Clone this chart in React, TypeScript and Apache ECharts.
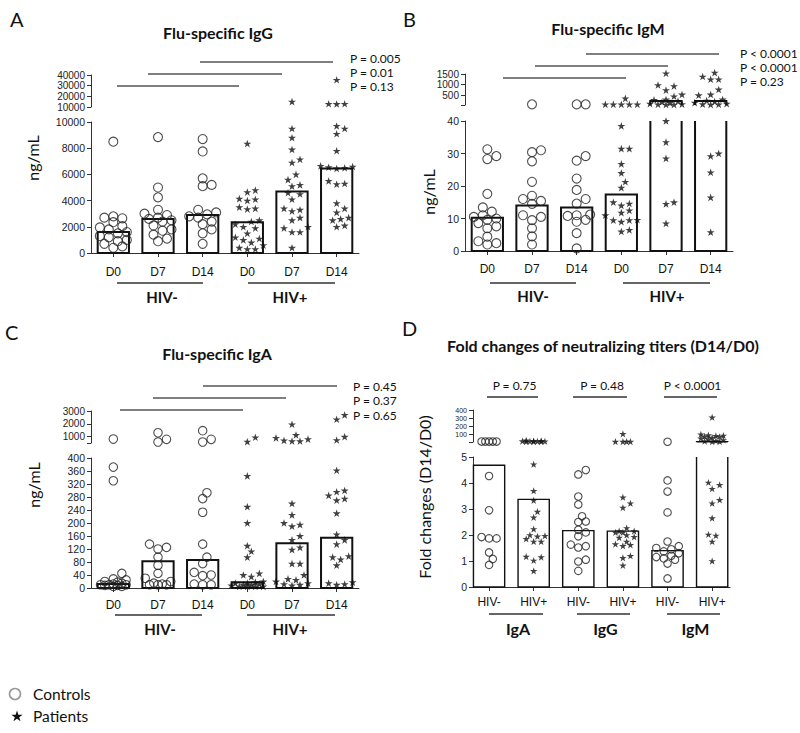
import React, { useEffect, useRef } from 'react';
import * as echarts from 'echarts';

// ---------------- data ----------------
const timeCategories = ['D0', 'D7', 'D14', 'D0', 'D7', 'D14'];
const foldCategories = ['HIV-', 'HIV+', 'HIV-', 'HIV+', 'HIV-', 'HIV+'];

// Panel A – Flu-specific IgG (ng/mL)
const iggMedians = [1600, 2600, 2900, 2350, 4700, 6450];
const iggPoints: number[][] = [
  [8500, 2800, 2700, 2650, 2350, 2050, 1950, 1800, 1600, 1500, 1300, 1200, 1000, 900, 700, 500, 400],
  [8850, 5000, 4250, 3300, 3000, 2900, 2700, 2600, 2500, 2400, 2100, 1800, 1700, 1400, 1100, 900],
  [8700, 7750, 5700, 5200, 5100, 3300, 3100, 2950, 2800, 2700, 2400, 2200, 1800, 1500, 700],
  [8350, 4800, 4650, 4150, 4100, 4000, 3500, 3400, 3350, 2500, 2400, 2200, 2000, 1900, 1500, 1200, 1100, 1000, 800, 600, 400, 300, 300],
  [15000, 9500, 8800, 7900, 7150, 6900, 6000, 5600, 5200, 5100, 4600, 4500, 4100, 3400, 3300, 3200, 2700, 2500, 2000, 1900, 1600, 1600, 400],
  [35500, 13000, 12800, 13000, 9700, 9500, 9100, 7800, 6650, 6600, 6550, 6500, 6450, 5500, 5300, 5250, 3800, 3400, 3100, 2700, 2600, 2500, 2100, 2000],
];
const iggUpperTicks = [10000, 20000, 30000, 40000];
const iggPValues = ['P = 0.005', 'P = 0.01', 'P = 0.13'];

// Panel B – Flu-specific IgM (ng/mL)
const igmMedians = [10.2, 14, 13.4, 17.4, 230, 230];
const igmPoints: number[][] = [
  [31.3, 29.2, 28.3, 17.6, 13.4, 12.1, 11, 10.5, 10, 9.6, 8.6, 7.6, 7, 4.4, 3, 2.4, 2],
  [70, 31, 30.4, 27.6, 21.3, 17, 16, 15.4, 14.5, 11, 10.5, 9.5, 7, 4.5, 2],
  [70, 70, 29.2, 27.8, 22.3, 18.8, 16, 14.6, 11.2, 11, 10.8, 9.6, 9, 5.5, 0.8],
  [350, 70, 70, 70, 70, 70, 38.5, 31.5, 31.5, 26.8, 24, 21.3, 19.5, 15, 14.6, 14, 12.5, 11.8, 11, 9.6, 9.5, 9.5, 9, 6.5, 6],
  [1530, 980, 930, 740, 535, 450, 300, 280, 220, 180, 140, 100, 80, 70, 60, 60, 40, 33.5, 28.5, 15, 14.5, 8.5],
  [1560, 1380, 1250, 1250, 770, 535, 500, 300, 250, 200, 150, 100, 80, 70, 60, 30, 29.2, 24.2, 16.5, 5.8],
];
const igmUpperTicks = [500, 1000, 1500];
const igmPValues = ['P < 0.0001', 'P < 0.0001', 'P = 0.23'];

// Panel C – Flu-specific IgA (ng/mL)
const igaMedians = [12, 82, 86, 18, 138, 155];
const igaPoints: number[][] = [
  [810, 372, 330, 45, 28, 25, 20, 18, 15, 12, 10, 10, 10, 8, 8, 5, 5],
  [1300, 790, 580, 135, 125, 120, 95, 70, 45, 30, 20, 15, 12, 10, 10, 10],
  [1460, 790, 580, 293, 275, 233, 135, 95, 75, 48, 40, 38, 12, 10, 10],
  [945, 600, 345, 250, 200, 130, 113, 95, 45, 40, 35, 20, 18, 15, 15, 12, 10, 10, 8, 5, 5, 5, 5],
  [1960, 1125, 900, 800, 700, 650, 650, 260, 225, 200, 195, 190, 160, 148, 125, 118, 75, 75, 40, 28, 25, 20, 15, 12, 10, 8],
  [2690, 2350, 990, 730, 362, 300, 296, 285, 275, 270, 230, 165, 148, 135, 98, 95, 88, 70, 18, 15, 12, 10],
];
const igaUpperTicks = [1000, 2000, 3000];
const igaPValues = ['P = 0.45', 'P = 0.37', 'P = 0.65'];

// Panel D – Fold changes of neutralizing titers (D14/D0)
const foldMedians = [4.68, 3.37, 2.17, 2.15, 1.4, 8];
const foldPoints: number[][] = [
  [10, 10, 10, 10, 10, 4.27, 2.95, 1.92, 1.87, 1.87, 1.33, 1.08, 0.85],
  [25, 20, 18, 15, 14, 12, 12, 10, 10, 10, 4.72, 3.7, 3.33, 2.9, 2.68, 2.23, 2.0, 1.97, 1.95, 1.85, 1.75, 1.75, 1.17, 1.15, 1.02, 0.62],
  [4.5, 4.33, 3.48, 3.17, 2.72, 2.5, 2.52, 2.2, 2.1, 1.95, 1.63, 1.57, 1.52, 1.05, 0.98, 0.62],
  [105, 10, 10, 10, 10, 3.45, 3.22, 3.05, 2.27, 2.15, 2.15, 2.1, 2.1, 2.0, 1.93, 1.9, 1.75, 1.65, 1.62, 1.58, 1.2, 1.12, 0.83],
  [8, 4.1, 3.67, 2.87, 1.75, 1.57, 1.5, 1.45, 1.37, 1.3, 1.2, 1.15, 1.1, 1.05, 0.9, 0.33],
  [310, 100, 90, 85, 80, 75, 70, 60, 50, 40, 30, 20, 15, 10, 10, 4.02, 3.93, 3.78, 3.35, 3.22, 2.65, 2.02, 1.98, 1.75, 1.0],
];
const foldUpperTicks = [100, 200, 300, 400];
const foldGroups = ['IgA', 'IgG', 'IgM'];
const foldPValues = ['P = 0.75', 'P = 0.48', 'P < 0.0001'];

// ---------------- layout ----------------
const TICK_FONT = '"Liberation Sans", Arial, sans-serif';
const TEXT_FONT = 'Lato, "Open Sans", sans-serif';
const STAR_PTS = [
  [0, -1], [0.2245, -0.309], [0.951, -0.309], [0.363, 0.118], [0.588, 0.809],
  [0, 0.382], [-0.588, 0.809], [-0.363, 0.118], [-0.951, -0.309], [-0.2245, -0.309],
];
const STAR = 'path://M' + STAR_PTS.map((p) => p[0] + ',' + p[1]).join('L') + 'Z';

interface Panel {
  cats: string[];
  valueX: boolean;
  medians: number[];
  points: number[][];
  isControl: (i: number) => boolean;
  left: number; width: number;
  lowTop: number; lowH: number; lowMin: number; lowMax: number; lowInterval: number;
  upTop: number; upH: number; upMin: number; upMax: number; upTicks: number[]; upLabels: number[];
  upFont: number; upLine: number;
  circleSize: number; starSize: number; barLine: number; spread: number; xMargin: number;
  xMin?: number; xMax?: number;
}

const panels: Panel[] = [
  {
    cats: timeCategories, valueX: false, medians: iggMedians, points: iggPoints, isControl: (i) => i < 3,
    left: 91, width: 268,
    lowTop: 122, lowH: 131, lowMin: 0, lowMax: 10000, lowInterval: 2000,
    upTop: 75, upH: 32, upMin: 10000, upMax: 40000, upTicks: iggUpperTicks, upLabels: iggUpperTicks, upFont: 10, upLine: 10,
    circleSize: 9, starSize: 8, barLine: 2, spread: 16, xMargin: 13,
  },
  {
    cats: timeCategories, valueX: false, medians: igmMedians, points: igmPoints, isControl: (i) => i < 3,
    left: 465, width: 268,
    lowTop: 121, lowH: 130, lowMin: 0, lowMax: 40, lowInterval: 10,
    upTop: 74, upH: 31, upMin: 40, upMax: 1500, upTicks: [40, ...igmUpperTicks], upLabels: igmUpperTicks, upFont: 10, upLine: 10,
    circleSize: 9, starSize: 8, barLine: 2, spread: 16, xMargin: 12,
  },
  {
    cats: timeCategories, valueX: false, medians: igaMedians, points: igaPoints, isControl: (i) => i < 3,
    left: 91, width: 268,
    lowTop: 458, lowH: 130, lowMin: 0, lowMax: 400, lowInterval: 40,
    upTop: 411, upH: 32, upMin: 500, upMax: 3000, upTicks: [500, ...igaUpperTicks], upLabels: igaUpperTicks, upFont: 10, upLine: 10,
    circleSize: 8.5, starSize: 8, barLine: 2, spread: 16, xMargin: 11,
  },
  {
    cats: foldCategories, valueX: true, medians: foldMedians, points: foldPoints, isControl: (i) => i % 2 === 0,
    left: 473, width: 257, xMin: -0.36, xMax: 5.4,
    lowTop: 457, lowH: 130, lowMin: 0, lowMax: 5, lowInterval: 1,
    upTop: 410, upH: 32, upMin: 5, upMax: 400, upTicks: [5, ...foldUpperTicks], upLabels: foldUpperTicks, upFont: 7, upLine: 7,
    circleSize: 7.5, starSize: 7.5, barLine: 1.4, spread: 14, xMargin: 9,
  },
];

function swarmOffsets(ys: number[], size: number, maxHalf: number): number[] {
  const idx = ys.map((_, i) => i).sort((a, b) => ys[b] - ys[a]);
  const placed: [number, number][] = [];
  const out = new Array(ys.length).fill(0);
  const minD = size * 0.85;
  const step = size * 0.5;
  const nSteps = Math.floor(maxHalf / step);
  for (const i of idx) {
    const y = ys[i];
    let best = 0;
    let bestD = -1;
    for (let k = 0; k <= nSteps * 2; k++) {
      const dx = k === 0 ? 0 : (k % 2 === 1 ? 1 : -1) * Math.ceil(k / 2) * step;
      let d = Infinity;
      for (const [px, py] of placed) d = Math.min(d, Math.hypot(px - dx, py - y));
      if (d >= minD) { best = dx; bestD = d; break; }
      if (d > bestD) { bestD = d; best = dx; }
    }
    out[i] = best;
    placed.push([best, y]);
  }
  return out;
}

function barRender(lo: number, hi: number, isUpper: boolean, lw: number) {
  return (params: any, api: any) => {
    const i = api.value(0);
    const v = api.value(1);
    const bw = api.size([1, 0])[0] * 0.7;
    const base = api.coord([i, lo]);
    const x0 = base[0] - bw / 2;
    const x1 = base[0] + bw / 2;
    const yb = base[1];
    const style = { stroke: '#111', lineWidth: lw, fill: 'none' };
    if (!isUpper) {
      if (v <= hi) {
        const yt = api.coord([i, v])[1];
        return { type: 'rect', shape: { x: x0, y: yt, width: bw, height: yb - yt }, style };
      }
      const yt = api.coord([i, hi])[1];
      return { type: 'polyline', shape: { points: [[x0, yt], [x0, yb], [x1, yb], [x1, yt]] }, style };
    }
    if (v <= lo) return null;
    const yt = api.coord([i, Math.min(v, hi)])[1];
    return { type: 'polyline', shape: { points: [[x0, yb], [x0, yt], [x1, yt], [x1, yb]] }, style };
  };
}

const axisLineStyle = { color: '#333', width: 1 };
const plain = (v: number) => String(v);

function buildOption() {
  const grids: any[] = [];
  const xAxes: any[] = [];
  const yAxes: any[] = [];
  const series: any[] = [];

  panels.forEach((p) => {
    const gl = grids.length;
    grids.push({ left: p.left, top: p.lowTop, width: p.width, height: p.lowH });
    grids.push({ left: p.left, top: p.upTop, width: p.width, height: p.upH });
    const idxs = p.cats.map((_, i) => i);
    const xBase: any = p.valueX
      ? { type: 'value', min: p.xMin, max: p.xMax, splitLine: { show: false } }
      : { type: 'category', data: p.cats, boundaryGap: true };
    const xLabel = { fontFamily: TICK_FONT, fontSize: 12, color: '#111', margin: p.xMargin, hideOverlap: false };
    xAxes.push({
      ...xBase,
      gridIndex: gl,
      axisLine: { show: true, onZero: false, lineStyle: axisLineStyle },
      axisTick: p.valueX
        ? { show: true, length: 4, customValues: idxs, lineStyle: axisLineStyle }
        : { show: true, alignWithLabel: true, length: 4, lineStyle: axisLineStyle },
      axisLabel: p.valueX
        ? { ...xLabel, customValues: idxs, formatter: (v: number) => p.cats[Math.round(v)], showMinLabel: true, showMaxLabel: true }
        : { ...xLabel, interval: 0 },
    });
    xAxes.push({ ...xBase, gridIndex: gl + 1, show: false });

    const yl = yAxes.length;
    yAxes.push({
      type: 'value', gridIndex: gl, min: p.lowMin, max: p.lowMax, interval: p.lowInterval,
      axisLine: { show: true, onZero: false, lineStyle: axisLineStyle },
      axisTick: { show: true, length: 4, lineStyle: axisLineStyle },
      axisLabel: { fontFamily: TICK_FONT, fontSize: 10.5, color: '#222', margin: 6, formatter: plain,
        showMinLabel: true, showMaxLabel: true, hideOverlap: false },
      splitLine: { show: false },
    });
    const yu = yAxes.length;
    const upLabelStyle = { fontFamily: TICK_FONT, fontSize: p.upFont, lineHeight: p.upLine, color: '#222', margin: 6,
      formatter: plain, showMinLabel: true, showMaxLabel: true, hideOverlap: false };
    // labels alternate between two coincident axes so tightly packed labels are all kept
    const labA = p.upLabels.filter((_, i) => i % 2 === (p.upLabels.length % 2 === 0 ? 1 : 0));
    const labB = p.upLabels.filter((v) => !labA.includes(v));
    yAxes.push({
      type: 'value', gridIndex: gl + 1, min: p.upMin, max: p.upMax, position: 'left', offset: 0,
      axisLine: { show: true, onZero: false, lineStyle: axisLineStyle },
      axisTick: { show: true, length: 4, customValues: p.upTicks, lineStyle: axisLineStyle },
      axisLabel: { ...upLabelStyle, customValues: labA },
      splitLine: { show: false },
    });
    if (labB.length) {
      yAxes.push({
        type: 'value', gridIndex: gl + 1, min: p.upMin, max: p.upMax, position: 'left', offset: 0,
        axisLine: { show: false, onZero: false },
        axisTick: { show: false },
        axisLabel: { ...upLabelStyle, customValues: labB },
        splitLine: { show: false },
      });
    }

    const med = p.medians.map((m, i) => [i, m]);
    series.push({ type: 'custom', xAxisIndex: gl, yAxisIndex: yl, data: med, z: 1, clip: false,
      renderItem: barRender(p.lowMin, p.lowMax, false, p.barLine) });
    series.push({ type: 'custom', xAxisIndex: gl + 1, yAxisIndex: yu, data: med, z: 1, clip: false,
      renderItem: barRender(p.upMin, p.upMax, true, p.barLine) });

    const lowPx = (v: number) => p.lowTop + p.lowH * (1 - (v - p.lowMin) / (p.lowMax - p.lowMin));
    const upPx = (v: number) => p.upTop + p.upH * (1 - (v - p.upMin) / (p.upMax - p.upMin));
    const buckets: Record<string, any[]> = { cl: [], cu: [], sl: [], su: [] };
    p.points.forEach((vals, i) => {
      const ctrl = p.isControl(i);
      const size = ctrl ? p.circleSize : p.starSize;
      const ys = vals.map((v) => (v > p.lowMax ? upPx(v) : lowPx(v)));
      const offs = swarmOffsets(ys, size, p.spread);
      vals.forEach((v, j) => {
        const upper = v > p.lowMax;
        const key = (ctrl ? 'c' : 's') + (upper ? 'u' : 'l');
        buckets[key].push({ value: [i, v], symbolOffset: [offs[j], 0] });
      });
    });
    const circleStyle = { color: 'rgba(255,255,255,0)', borderColor: '#222', borderWidth: 1.1 };
    const starStyle = { color: '#111' };
    const mk = (key: string, upper: boolean, ctrl: boolean) => ({
      type: 'scatter', xAxisIndex: gl + (upper ? 1 : 0), yAxisIndex: upper ? yu : yl,
      data: buckets[key], z: 3, clip: false, silent: true,
      symbol: ctrl ? 'circle' : STAR, symbolKeepAspect: true,
      symbolSize: ctrl ? p.circleSize : p.starSize,
      itemStyle: ctrl ? circleStyle : starStyle,
    });
    series.push(mk('cl', false, true), mk('cu', true, true), mk('sl', false, false), mk('su', true, false));
  });

  const g: any[] = [];
  const text = (t: string, x: number, y: number, font: string, align = 'center', rotation = 0) =>
    g.push({ type: 'text', x, y, rotation, silent: true,
      style: { text: t, font, fill: '#111', align, verticalAlign: 'middle' } });
  const line = (x1: number, y1: number, x2: number, y2: number, color = '#555', w = 1.5) =>
    g.push({ type: 'line', silent: true, shape: { x1, y1, x2, y2 }, style: { stroke: color, lineWidth: w } });

  const letterFont = `20px ${TEXT_FONT}`;
  const titleFont = `bold 16px ${TEXT_FONT}`;
  const groupFont = `bold 15px ${TEXT_FONT}`;
  const pFont = `12px ${TEXT_FONT}`;
  const yTitleFont = `16px ${TEXT_FONT}`;

  // panel letters
  text('A', 10, 19, letterFont, 'left');
  text('B', 403, 19, letterFont, 'left');
  text('C', 5, 332, letterFont, 'left');
  text('D', 402, 328, letterFont, 'left');
  // titles
  text('Flu-specific IgG', 218, 32, titleFont);
  text('Flu-specific IgM', 608, 28, titleFont);
  text('Flu-specific IgA', 217, 353, titleFont);
  text('Fold changes of neutralizing titers (D14/D0)', 603, 345, titleFont);
  // y titles
  text('ng/mL', 32, 158, yTitleFont, 'center', Math.PI / 2);
  text('ng/mL', 428, 192, yTitleFont, 'center', Math.PI / 2);
  text('ng/mL', 33, 485, yTitleFont, 'center', Math.PI / 2);
  text('Fold changes (D14/D0)', 424, 497, yTitleFont, 'center', Math.PI / 2);

  // panel A significance
  line(117, 86, 239, 86); line(148, 74, 282, 74); line(200, 62, 333, 62);
  iggPValues.forEach((t, i) => text(t, 350, 58 + i * 14, pFont, 'left'));
  // panel B significance
  line(503, 78, 626, 78); line(535, 66, 668, 66); line(586, 54, 719, 54);
  igmPValues.forEach((t, i) => text(t, 740, 53 + i * 14, pFont, 'left'));
  // panel C significance
  line(120, 410, 243, 410); line(153, 398, 286, 398); line(203, 386, 337, 386);
  igaPValues.forEach((t, i) => text(t, 353, 386 + i * 14.5, pFont, 'left'));
  // panel D significance
  [[487, 538], [573, 627], [664, 717]].forEach(([a, b], i) => {
    line(a, 397, b, 397, '#666', 2);
    text(foldPValues[i], (a + b) / 2 + 2, 385, pFont);
  });

  // group lines / labels
  line(117, 283, 203, 283, '#666', 2); line(248, 283, 335, 283, '#666', 2);
  text('HIV-', 162, 297, groupFont); text('HIV+', 290, 297, groupFont);
  line(490, 283, 576, 283, '#666', 2); line(623, 283, 710, 283, '#666', 2);
  text('HIV-', 533, 296, groupFont); text('HIV+', 667, 296, groupFont);
  line(115, 615, 202, 615, '#666', 2); line(247, 615, 335, 615, '#666', 2);
  text('HIV-', 160, 629, groupFont); text('HIV+', 290, 629, groupFont);
  [[489, 543], [577, 630], [667, 720]].forEach(([a, b], i) => {
    line(a, 614, b, 614, '#666', 2);
    text(foldGroups[i], (a + b) / 2 + 2, 628, `bold 16px ${TEXT_FONT}`);
  });

  // legend
  g.push({ type: 'circle', silent: true, shape: { cx: 15, cy: 694, r: 5.5 },
    style: { fill: '#fff', stroke: '#999', lineWidth: 1.6 } });
  text('Controls', 33, 694, `15.5px ${TEXT_FONT}`, 'left');
  g.push({ type: 'polygon', silent: true,
    shape: { points: STAR_PTS.map(([x, y]) => [17 + x * 6, 716.5 + y * 6]) },
    style: { fill: '#111' } });
  text('Patients', 33, 716, `15.5px ${TEXT_FONT}`, 'left');

  return {
    animation: false,
    backgroundColor: '#fff',
    grid: grids,
    xAxis: xAxes,
    yAxis: yAxes,
    series,
    graphic: g,
  };
}

export default function App() {
  const ref = useRef<HTMLDivElement>(null);
  useEffect(() => {
    if (!ref.current) return;
    const chart = echarts.init(ref.current, null, { renderer: 'svg' });
    chart.setOption(buildOption() as any);
    return () => chart.dispose();
  }, []);
  return <div ref={ref} style={{ position: 'absolute', left: 0, top: 0, width: 800, height: 733 }} />;
}
